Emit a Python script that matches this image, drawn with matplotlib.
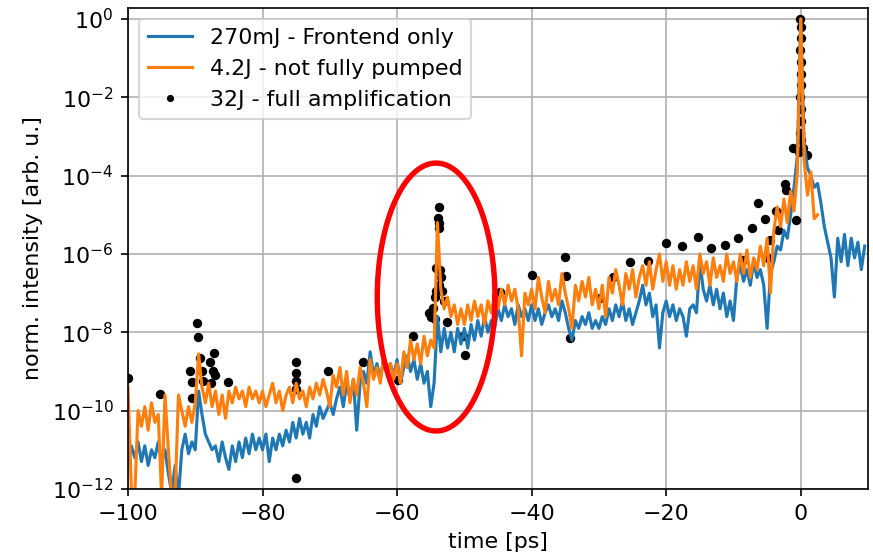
import numpy as np
import matplotlib
matplotlib.use("Agg")
import matplotlib.pyplot as plt

plt.rcParams["font.size"] = 10.6

# log10 of the normalised intensity, sampled every 0.5 ps
t_frontend = np.arange(-100, 10, 0.5)
log_frontend = [
    -11.3, -10.9, -11.2, -10.8, -11.3, -10.9, -11.4, -11.0, -11.2, -10.8,
    -11.3, -11.0, -11.6, -12.1, -11.4, -12.2, -11.0, -10.6, -11.1, -10.8,
    -11.0, -9.5, -10.1, -10.6, -10.8, -11.0, -10.9, -11.3, -10.8, -11.2,
    -11.5, -10.9, -11.3, -10.8, -11.2, -10.7, -11.1, -10.6, -11.0, -10.7,
    -11.0, -10.6, -11.3, -10.7, -11.0, -10.6, -10.9, -10.5, -10.8, -10.3,
    -10.7, -10.2, -10.6, -10.3, -10.7, -10.1, -10.4, -9.9, -10.2, -10.0,
    -9.8, -10.1, -9.7, -9.4, -9.9, -9.3, -9.7, -9.2, -10.5, -9.3,
    -9.0, -9.3, -8.5, -9.1, -8.8, -9.2, -8.7, -9.0, -8.8, -9.1,
    -8.7, -9.3, -8.9, -8.6, -9.0, -8.7, -9.2, -8.8, -9.3, -9.0,
    -9.9, -9.3, -7.6, -8.5, -7.9, -8.4, -8.0, -8.5, -7.9, -8.3,
    -7.9, -8.4, -7.8, -8.2, -7.7, -8.1, -7.6, -8.0, -7.7, -7.9,
    -7.4, -7.7, -7.3, -7.6, -7.4, -7.8, -7.3, -7.6, -7.4, -7.7,
    -7.3, -7.7, -7.4, -7.8, -7.5, -7.3, -7.6, -7.4, -7.7, -7.2,
    -7.5, -7.9, -8.2, -7.7, -7.9, -7.6, -7.8, -7.5, -7.9, -7.7,
    -7.9, -7.6, -7.8, -7.4, -7.7, -7.3, -7.6, -7.2, -7.7, -7.4,
    -7.8, -7.5, -7.2, -6.8, -7.3, -7.0, -7.6, -7.3, -8.4, -7.5,
    -7.2, -7.6, -7.3, -7.7, -7.4, -7.6, -8.1, -7.4, -7.3, -7.5,
    -6.2, -6.9, -7.2, -6.8, -7.3, -6.9, -7.4, -7.0, -7.6, -7.2,
    -7.7, -6.6, -6.3, -6.7, -6.4, -6.8, -6.2, -6.6, -6.4, -6.8,
    -7.9, -6.5, -6.2, -5.8, -5.9, -5.4, -5.6, -5.0, -4.3, -3.5,
    0.0, -3.2, -3.8, -4.0, -4.3, -4.2, -4.7, -5.3, -5.7, -6.1,
    -7.1, -5.6, -6.2, -5.5, -6.3, -5.6, -6.1, -5.7, -6.4, -5.8,
]

t_pumped = np.arange(-100, 3, 0.5)
log_pumped = [
    -9.4, -12.0, -12.2, -10.0, -10.4, -9.9, -10.5, -9.8, -10.3, -10.1,
    -12.2, -9.6, -11.0, -12.2, -12.2, -9.6, -10.0, -10.4, -9.9, -10.3,
    -9.8, -8.55, -9.4, -9.8, -9.3, -9.9, -9.5, -10.1, -9.6, -10.2,
    -9.5, -9.8, -9.4, -9.7, -9.5, -9.9, -9.4, -9.7, -9.5, -9.8,
    -9.5, -9.9, -9.6, -9.3, -9.8, -9.5, -10.0, -9.6, -9.4, -9.8,
    -9.3, -9.7, -9.5, -9.9, -9.4, -9.7, -9.3, -9.6, -9.2, -9.5,
    -9.9, -9.1, -9.4, -8.9, -9.6, -9.0, -9.8, -9.2, -9.6, -8.9,
    -9.3, -9.9, -8.7, -9.2, -8.9, -9.3, -8.6, -9.0, -8.8, -9.2,
    -8.8, -9.3, -8.5, -8.9, -8.2, -8.7, -8.3, -8.8, -8.1, -8.6,
    -8.2, -8.4, -5.2, -6.9, -7.4, -7.1, -7.6, -7.3, -7.8, -7.4,
    -7.8, -7.3, -7.7, -7.2, -7.6, -7.3, -7.8, -7.2, -7.5, -7.0,
    -7.4, -6.9, -7.3, -6.8, -7.2, -6.9, -7.4, -8.6, -7.0, -7.3,
    -6.9, -7.4, -6.6, -7.1, -7.5, -6.7, -7.2, -6.9, -7.3, -6.5,
    -7.0, -7.4, -7.9, -6.8, -7.2, -6.7, -7.1, -6.6, -7.3, -6.9,
    -7.4, -6.8, -7.6, -6.6, -7.0, -6.4, -6.8, -7.3, -6.5, -6.9,
    -6.4, -7.1, -6.6, -6.3, -6.8, -6.2, -6.9, -6.4, -6.0, -6.7,
    -6.2, -6.8, -6.3, -6.9, -6.4, -6.8, -6.2, -6.7, -6.3, -6.9,
    -6.0, -6.5, -6.2, -6.8, -6.1, -6.6, -6.3, -6.7, -6.0, -6.5,
    -6.2, -6.7, -6.0, -6.5, -5.9, -6.6, -6.1, -6.4, -5.8, -6.3,
    -5.6, -7.0, -5.4, -4.8, -5.3, -4.6, -5.2, -4.4, -4.9, -3.9,
    0.0, -3.6, -4.5, -3.9, -5.1, -5.0,
]

# full amplification shots (sparse points)
t_full = [
    -99.95, -95.2, -90.8, -90.55, -90.5, -89.8, -89.55, -89.3, -89.0, -88.8,
    -87.8, -87.6, -87.3, -87.2, -87.1, -85.1,
    -75.1, -75.1, -75.1, -75.1, -75.05, -70.2, -65.1,
    -59.9, -57.6, -55.2, -55.0, -54.7, -54.4, -54.3, -54.2, -54.2, -53.9,
    -53.8, -53.8, -53.7, -53.7, -53.6, -53.5, -53.3, -53.1, -52.6, -50.2,
    -49.9, -44.7,
    -40.0, -35.1, -34.9, -34.3, -29.9, -27.9, -25.4, -22.7,
    -19.96, -17.7, -15.2, -13.3, -11.3, -9.3, -8.6, -7.3, -6.3, -5.3,
    -4.9, -4.6, -3.7, -3.35, -2.4, -2.2, -1.1, -0.7,
    -0.1, 0.0, 0.05, -0.05, 0.1, 0.0, 0.1, -0.1, 0.1, 0.0, -0.1, 0.1,
    0.3, -0.3, 1.0,
]
log_full = [
    -9.17, -9.57, -9.0, -9.27, -9.68, -7.77, -8.11, -8.65, -9.0, -9.25,
    -8.75, -9.3, -9.0, -8.53, -9.1, -9.27,
    -8.76, -9.04, -9.25, -9.45, -11.72, -9.0, -8.76,
    -9.22, -8.09, -7.5, -7.6, -7.38, -7.65, -7.1, -6.36, -6.95, -5.08,
    -4.79, -5.2, -5.35, -6.8, -6.4, -6.6, -6.95, -7.2, -7.75, -8.1,
    -8.58, -6.96,
    -6.54, -6.07, -6.56, -8.15, -7.13, -6.6, -6.2, -6.17,
    -5.73, -5.8, -5.56, -5.85, -5.77, -5.6, -6.15, -5.34, -4.7, -5.11,
    -6.1, -5.64, -4.9, -5.39, -4.21, -4.37, -3.3, -5.13,
    0.0, -0.2, -0.5, -0.8, -1.1, -1.4, -1.7, -2.0, -2.3, -2.6, -2.9, -3.1,
    -3.3, -3.4, -3.47,
]

# highlighted pre-pulse: centre (ps, log10) and half axes
mark_t, mark_log = -54.2, -7.1
mark_dt, mark_dlog = 8.75, 3.42

fig, ax = plt.subplots(figsize=(873 / 150, 558 / 150), dpi=150)
fig.subplots_adjust(left=0.1466, right=0.9943, top=0.9857, bottom=0.1237)

ax.plot(t_frontend, 10.0 ** np.array(log_frontend), color="C0",
        label="270mJ - Frontend only")
ax.plot(t_pumped, 10.0 ** np.array(log_pumped), color="C1",
        label="4.2J - not fully pumped")
ax.plot(t_full, 10.0 ** np.array(log_full), "k.", ms=7, zorder=1.9,
        label="32J - full amplification")

phi = np.linspace(0, 2 * np.pi, 300)
ax.plot(mark_t + mark_dt * np.cos(phi),
        10.0 ** (mark_log + mark_dlog * np.sin(phi)), color="red", lw=2.6)

ax.set_yscale("log")
ax.set_xlim(-100, 10)
ax.set_ylim(1e-12, 1.9)
ax.set_yticks([10.0 ** k for k in range(-12, 1, 2)])
ax.yaxis.set_minor_locator(matplotlib.ticker.NullLocator())
ax.set_xticks([-100, -80, -60, -40, -20, 0])
ax.grid(True)
ax.set_xlabel("time [ps]")
ax.set_ylabel("norm. intensity [arb. u.]")
ax.legend(loc="upper left", markerscale=0.7)

fig.savefig("out.png", dpi=150)
